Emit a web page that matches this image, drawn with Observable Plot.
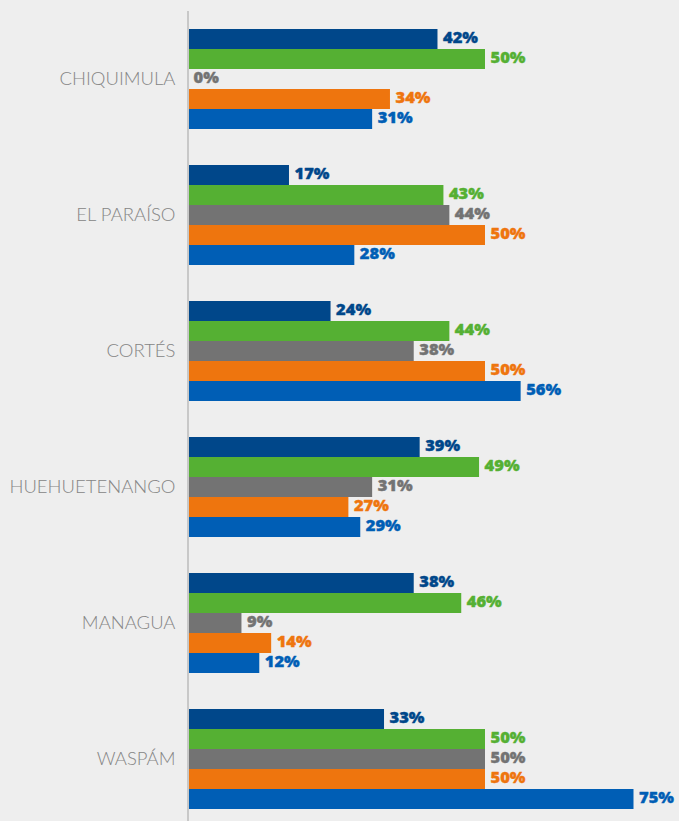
<!DOCTYPE html>
<html>
<head>
<meta charset="utf-8">
<script src="https://cdn.jsdelivr.net/npm/d3@7"></script>
<script src="https://cdn.jsdelivr.net/npm/@observablehq/plot@0.6"></script>
<style>
  html, body { margin: 0; padding: 0; background: #eeeeee; }
  #chart svg { display: block; }
  .fy-axis text { font-weight: 300; }
  .vals text { font-family: "Open Sans", sans-serif; font-style: normal; }
</style>
</head>
<body>
<div id="chart"></div>
<script>
const regions = ["CHIQUIMULA", "EL PARAÍSO", "CORTÉS", "HUEHUETENANGO", "MANAGUA", "WASPÁM"];
const series = ["Serie 1", "Serie 2", "Serie 3", "Serie 4", "Serie 5"];
const colors = ["#00478a", "#55b033", "#737373", "#ee750e", "#005eb5"];
const serie1 = [42, 17, 24, 39, 38, 33];
const serie2 = [50, 43, 44, 49, 46, 50];
const serie3 = [0, 44, 38, 31, 9, 50];
const serie4 = [34, 50, 50, 27, 14, 50];
const serie5 = [31, 28, 56, 29, 12, 75];

const valuesBySeries = [serie1, serie2, serie3, serie4, serie5];
const data = [];
regions.forEach((r, i) => {
  series.forEach((s, j) => {
    data.push({region: r, series: s, value: valuesBySeries[j][i]});
  });
});

const plot = Plot.plot({
  width: 679,
  height: 821,
  marginLeft: 188,
  marginRight: 45.5,
  marginTop: 29,
  marginBottom: 12,
  facet: {marginTop: 0, marginBottom: 0, marginLeft: 0, marginRight: 0},
  style: {background: "#eeeeee", fontFamily: "Lato, 'Open Sans', sans-serif"},
  x: {domain: [0, 75], axis: null},
  y: {domain: series, padding: 0, round: false, axis: null},
  fy: {domain: regions, paddingInner: 0.2647, paddingOuter: 0, round: false, axis: null},
  color: {domain: series, range: colors},
  marks: [
    Plot.barX(data, {fy: "region", y: "series", x: "value", fill: "series"}),
    Plot.text(data, {
      fy: "region", y: "series", x: "value",
      text: d => d.value + "%",
      fill: "series",
      stroke: "series",
      strokeWidth: 0.4,
      dx: 5,
      dy: -2,
      textAnchor: "start",
      fontSize: 16.5,
      fontWeight: 800,
      className: "vals"
    }),
    Plot.axisFy({
      anchor: "left",
      tickSize: 0,
      tickPadding: 13,
      label: null,
      fontSize: 18.5,
      color: "#858585",
      className: "fy-axis"
    })
  ]
});

const xs = plot.scale("x");
d3.select(plot).append("line")
  .attr("x1", xs.apply(0)).attr("x2", xs.apply(0))
  .attr("y1", 11).attr("y2", 821)
  .attr("stroke", "#c8c8c8").attr("stroke-width", 2);

document.getElementById("chart").appendChild(plot);
</script>
</body>
</html>
